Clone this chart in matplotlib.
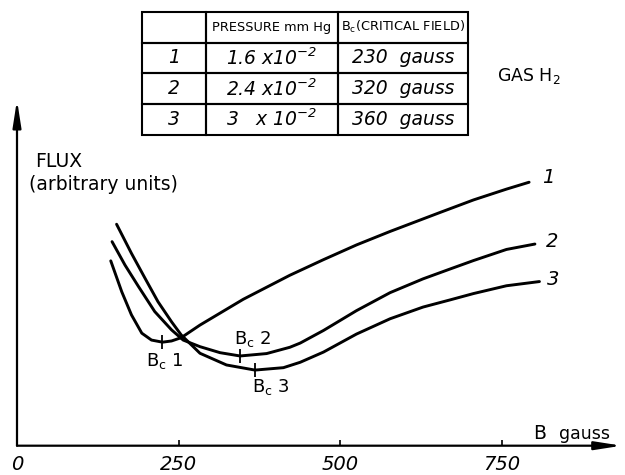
import matplotlib
matplotlib.use("Agg")
import matplotlib.pyplot as plt
from matplotlib import font_manager

# ---------------- data ----------------
field_1 = [145, 162, 177, 193, 208, 225, 239, 254, 283, 350, 422, 474, 525, 577, 621, 654, 706, 757, 792]
flux_1 = [6.16, 5.13, 4.36, 3.75, 3.52, 3.45, 3.49, 3.60, 4.02, 4.88, 5.68, 6.20, 6.69, 7.14, 7.50, 7.77, 8.19, 8.55, 8.78]

field_2 = [147, 167, 188, 213, 239, 257, 283, 314, 345, 386, 422, 438, 474, 525, 577, 628, 670, 706, 757, 801]
flux_2 = [6.80, 6.02, 5.30, 4.47, 3.86, 3.52, 3.30, 3.10, 2.99, 3.07, 3.28, 3.42, 3.84, 4.50, 5.10, 5.56, 5.89, 6.17, 6.54, 6.72]

field_3 = [154, 177, 198, 218, 239, 254, 283, 324, 368, 412, 438, 474, 525, 577, 628, 670, 706, 757, 808]
flux_3 = [7.38, 6.41, 5.58, 4.80, 4.13, 3.69, 3.08, 2.69, 2.52, 2.60, 2.78, 3.12, 3.72, 4.23, 4.62, 4.86, 5.07, 5.33, 5.47]

curve_names = ["1", "2", "3"]
bc_field = [225, 345, 368]
bc_flux = [3.45, 2.99, 2.52]
bc_labels = ["B$_c$ 1", "B$_c$ 2", "B$_c$ 3"]

tick_values = [0, 250, 500, 750]
tick_labels = ["0", "250", "500", "750"]

table_header = ["", "PRESSURE mm Hg", "B$_c$(CRITICAL FIELD)"]
table_rows = [
    ["1", "1.6 x10$^{-2}$", "230  gauss"],
    ["2", "2.4 x10$^{-2}$", "320  gauss"],
    ["3", "3   x 10$^{-2}$", "360  gauss"],
]

# ---------------- style ----------------
plt.rcParams["font.family"] = ["DejaVu Sans"]
plt.rcParams["mathtext.default"] = "regular"
names = {f.name for f in font_manager.fontManager.ttflist}
narrow = "Liberation Sans Narrow" if "Liberation Sans Narrow" in names else "DejaVu Sans"
hdr_size = 12 if narrow != "DejaVu Sans" else 9.3

W, H = 625, 475
fig = plt.figure(figsize=(W / 100, H / 100), dpi=100)
fig.patch.set_facecolor("white")

# overlay axes in pixel coordinates for labels / table
ov = fig.add_axes([0, 0, 1, 1])
ov.set_xlim(0, W)
ov.set_ylim(H, 0)
ov.axis("off")

ax = fig.add_axes([17 / W, (H - 445.7) / H, (621.7 - 17) / W, (445.7 - 100) / H])
ax.set_xlim(0, 935.2)
ax.set_ylim(0, 11.52)
ax.patch.set_visible(False)
for s in ax.spines.values():
    s.set_visible(False)
ax.set_yticks([])
ax.set_xticks(tick_values)
ax.set_xticklabels(tick_labels, fontstyle="italic", fontsize=14)
ax.tick_params(axis="x", direction="in", length=4, width=1.2, pad=7, colors="black")

arrow = dict(arrowstyle="-|>,head_length=1.6,head_width=0.25", lw=1.6, color="black",
             shrinkA=0, shrinkB=0, mutation_scale=10)
ax.annotate("", xy=(1, 0), xytext=(0, 0), xycoords="axes fraction", arrowprops=arrow)
ax.annotate("", xy=(0, 1), xytext=(0, 0), xycoords="axes fraction", arrowprops=arrow)

offsets = [(19, 5), (17, 3), (14, 2)]
for xs, ys, name, off in zip([field_1, field_2, field_3], [flux_1, flux_2, flux_3], curve_names, offsets):
    ax.plot(xs, ys, color="black", lw=2.1, solid_capstyle="round", solid_joinstyle="round")
    ax.annotate(name, xy=(xs[-1], ys[-1]), xytext=off, textcoords="offset pixels",
                fontsize=14, fontstyle="italic", ha="center", va="center")

bc_offsets = [(2, -19), (13, 17), (16, -17)]
for bx, by, lab, off in zip(bc_field, bc_flux, bc_labels, bc_offsets):
    ax.plot([bx], [by], marker="|", ms=10, mew=1.3, color="black")
    ax.annotate(lab, xy=(bx, by), xytext=off, textcoords="offset pixels",
                fontsize=13, ha="center", va="center")

# axis texts
ov.text(35, 167, "FLUX", fontsize=13.5, ha="left", va="baseline")
ov.text(29, 190, "(arbitrary units)", fontsize=13.5, ha="left", va="baseline")
ov.text(497, 81, "GAS H$_2$", fontsize=12.5, ha="left", va="baseline")
ov.text(533, 439, "B", fontsize=13.5, ha="left", va="baseline")
ov.text(559, 439, "gauss", fontsize=12.5, ha="left", va="baseline")

# table
tbl = ov.table(cellText=table_rows, colLabels=table_header, colWidths=[0.197, 0.403, 0.400],
               cellLoc="center", bbox=[141.7 / W, 1 - 135 / H, (468.3 - 141.7) / W, (135 - 11.7) / H])
tbl.auto_set_font_size(False)
for (r, c), cell in tbl.get_celld().items():
    cell.set_linewidth(1.5)
    cell.set_edgecolor("black")
    cell.set_facecolor("none")
    cell.PAD = 0.02
    t = cell.get_text()
    if r == 0:
        t.set_fontsize(hdr_size)
        t.set_fontfamily(narrow)
    else:
        t.set_fontsize(13.5)
        t.set_fontstyle("italic")

fig.savefig("out.png", dpi=100, facecolor="white")
